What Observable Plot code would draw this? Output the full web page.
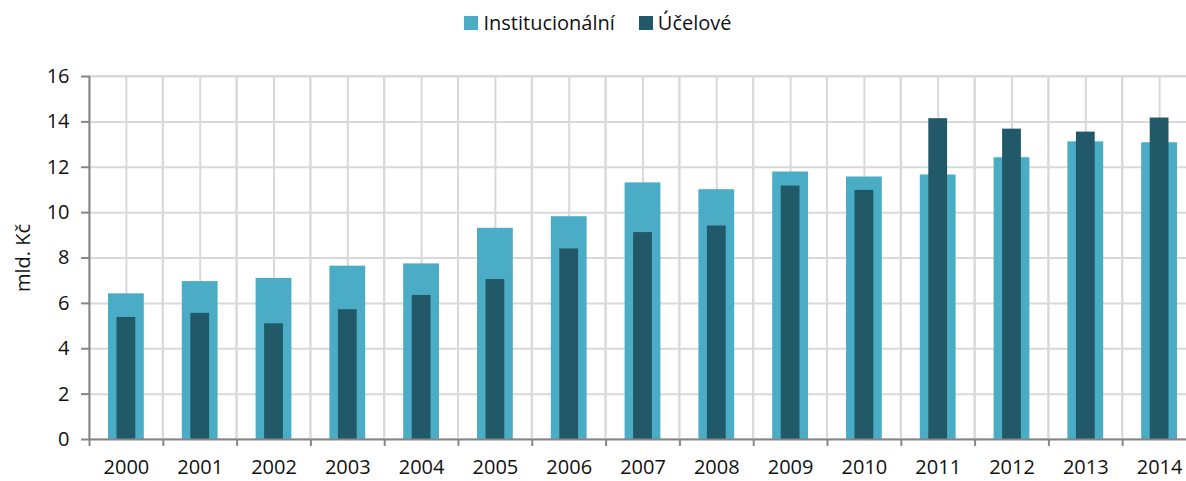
<!DOCTYPE html>
<html>
<head>
<meta charset="utf-8">
<script src="https://cdn.jsdelivr.net/npm/d3@7"></script>
<script src="https://cdn.jsdelivr.net/npm/@observablehq/plot@0.6"></script>
<style>
  html, body { margin: 0; padding: 0; background: #fff; }
  body { width: 1186px; height: 481px; overflow: hidden; font-family: "Open Sans", sans-serif; }
  #legend { height: 45px; display: flex; justify-content: center; align-items: center; gap: 24px; font-size: 20px; color: #111; padding-left: 10px; box-sizing: border-box; }
  #legend .item { display: flex; align-items: center; gap: 5px; }
  #legend .sw { width: 14px; height: 14px; display: inline-block; }
</style>
</head>
<body>
<div id="legend"></div>
<div id="chart"></div>
<script>
const years = ["2000","2001","2002","2003","2004","2005","2006","2007","2008","2009","2010","2011","2012","2013","2014"];
const institucionalni = [6.42, 6.96, 7.10, 7.64, 7.74, 9.31, 9.82, 11.31, 11.01, 11.79, 11.57, 11.66, 12.42, 13.12, 13.08];
const ucelove = [5.38, 5.56, 5.10, 5.72, 6.35, 7.05, 8.40, 9.12, 9.41, 11.17, 10.98, 14.14, 13.68, 13.55, 14.17];
const seriesNames = ["Institucionální", "Účelové"];
const colors = ["#4bacc6", "#215968"];
const yTicks = [0, 2, 4, 6, 8, 10, 12, 14, 16];

const legend = document.getElementById("legend");
seriesNames.forEach((n, i) => {
  const it = document.createElement("span");
  it.className = "item";
  it.innerHTML = `<span class="sw" style="background:${colors[i]}"></span><span>${n}</span>`;
  legend.appendChild(it);
});

const data = years.map((y, i) => ({year: y, inst: institucionalni[i], ucel: ucelove[i]}));

const W = 1186, H = 436, mL = 89, mR = -10, mT = 31, mB = 42;
const bw = (W - mR - mL) / years.length;
const grid = "#d9d9d9", axisC = "#868686";

const chart = Plot.plot({
  width: W, height: H,
  marginLeft: mL, marginRight: mR, marginTop: mT, marginBottom: mB,
  style: {fontFamily: "Open Sans, sans-serif", fontSize: "20px", color: "#111", background: "#fff"},
  x: {type: "band", domain: years, padding: 0, align: 0.5, round: false},
  y: {domain: [0, 16], ticks: yTicks},
  marks: [
    Plot.ruleY(yTicks.filter(d => d > 0), {stroke: grid, strokeWidth: 2}),
    Plot.ruleX(years, {x: d => d, y1: 0, y2: 16, stroke: grid, strokeWidth: 2}),
    Plot.barY(years, {x: d => d, y1: 0, y2: 16, fill: "none", stroke: grid, strokeWidth: 2}),
    Plot.barY(data, {x: "year", y: "inst", fill: colors[0], insetLeft: 19, insetRight: 19}),
    Plot.barY(data, {x: "year", y: "ucel", fill: colors[1], insetLeft: 27.5, insetRight: 27.5}),
    Plot.ruleY([0], {stroke: axisC, strokeWidth: 2}),
    Plot.ruleX(years, {x: d => d, dx: -bw / 2, y1: 0, y2: 0, insetBottom: -7, stroke: axisC, strokeWidth: 2}),
    Plot.ruleX([years[0]], {x: d => d, dx: -bw / 2, y1: 0, y2: 16, stroke: axisC, strokeWidth: 2}),
    Plot.axisY({ticks: yTicks, tickSize: 8, tickPadding: 12, stroke: axisC, strokeWidth: 2, label: "mld. Kč", labelAnchor: "center", labelArrow: "none", labelOffset: 74}),
    Plot.axisX({tickSize: 0, tickPadding: 20, label: null})
  ]
});
document.getElementById("chart").appendChild(chart);
</script>
</body>
</html>
